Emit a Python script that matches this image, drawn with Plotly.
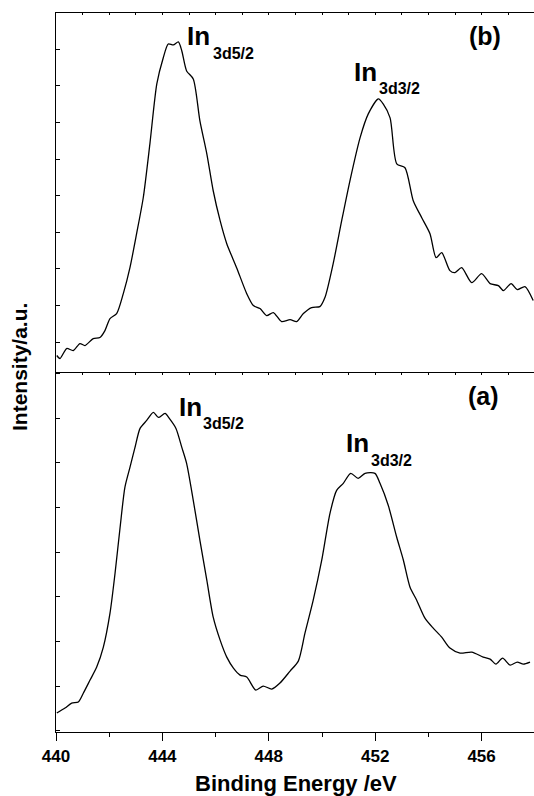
import plotly.graph_objects as go

# ---- data: panel (b) (top) ----
energy_b = [440.03, 440.15, 440.40, 440.65, 440.90, 441.09, 441.40, 441.65, 441.84, 442.03,
            442.28, 442.53, 442.78, 443.03, 443.28, 443.53, 443.79, 444.03, 444.22, 444.41,
            444.60, 444.73, 444.91, 445.16, 445.41, 445.67, 445.91, 446.17, 446.42, 446.79,
            447.17, 447.42, 447.67, 447.92, 448.17, 448.48, 448.80, 449.05, 449.30, 449.61,
            449.92, 450.11, 450.42, 450.74, 451.05, 451.43, 451.74, 452.12, 452.30, 452.56,
            452.81, 453.12, 453.43, 453.75, 454.06, 454.29, 454.50, 454.81, 455.00, 455.25,
            455.63, 456.00, 456.32, 456.63, 456.82, 457.11, 457.34, 457.63, 457.94]
intensity_b = [17, 14, 24, 22, 29, 27, 34, 35, 42, 54,
               59, 79, 105, 139, 175, 229, 289, 315, 329, 328,
               331, 322, 302, 294, 252, 219, 182, 152, 129, 105,
               79, 67, 64, 57, 60, 51, 53, 51, 59, 65,
               66, 75, 109, 152, 192, 235, 259, 274, 269, 255,
               209, 205, 172, 155, 139, 115, 120, 102, 100, 105,
               90, 99, 89, 87, 82, 89, 83, 86, 72]

# ---- data: panel (a) (bottom) ----
energy_a = [440.03, 440.34, 440.59, 440.84, 441.03, 441.28, 441.53, 441.78, 442.03, 442.22,
            442.41, 442.59, 442.78, 442.97, 443.16, 443.41, 443.66, 443.85, 444.10, 444.26,
            444.51, 444.73, 444.91, 445.16, 445.41, 445.67, 445.91, 446.17, 446.42, 446.67,
            446.92, 447.17, 447.51, 447.79, 448.11, 448.42, 448.80, 449.11, 449.36, 449.67,
            449.99, 450.30, 450.55, 450.80, 451.08, 451.36, 451.62, 451.99, 452.18, 452.49,
            452.81, 453.06, 453.31, 453.56, 453.87, 454.18, 454.50, 454.81, 455.19, 455.63,
            456.06, 456.32, 456.54, 456.79, 457.07, 457.34, 457.57, 457.82]
intensity_a = [19, 24, 29, 30, 39, 52, 65, 85, 119, 159,
               205, 245, 265, 285, 304, 312, 320, 315, 319, 314,
               304, 285, 269, 232, 192, 152, 115, 92, 75, 64,
               57, 55, 42, 46, 43, 49, 61, 71, 99, 132,
               172, 219, 242, 249, 259, 254, 259, 259, 249, 227,
               195, 172, 145, 132, 114, 104, 95, 84, 79, 80,
               75, 73, 68, 74, 67, 70, 68, 70]

x_ticks = [440, 444, 448, 452, 456]
x_range = [440, 457.97]

W, H = 534, 796
ML, MR, MT, MB = 56, 0, 13, 64
FONT = "Liberation Sans, Arial, sans-serif"
LW = 1.3

fig = go.Figure()
curve_line = dict(color="black", width=LW, shape="spline", smoothing=0.7)
fig.add_trace(go.Scatter(x=energy_a, y=intensity_a, mode="lines", line=curve_line,
                         xaxis="x", yaxis="y", showlegend=False, hoverinfo="skip"))
fig.add_trace(go.Scatter(x=energy_b, y=intensity_b, mode="lines", line=curve_line,
                         xaxis="x2", yaxis="y2", showlegend=False, hoverinfo="skip"))
# empty traces to make the top-side tick axes render
fig.add_trace(go.Scatter(x=[], y=[], xaxis="x3", yaxis="y", showlegend=False))
fig.add_trace(go.Scatter(x=[], y=[], xaxis="x4", yaxis="y2", showlegend=False))

common_y = dict(range=[0, 360], showticklabels=False, ticks="inside", ticklen=4,
                tickwidth=1, tickcolor="black", showline=True, linecolor="black",
                linewidth=LW, showgrid=False, zeroline=False, fixedrange=True)
top_axis = dict(range=x_range, side="top", ticks="inside", ticklen=2, tickwidth=1,
                tickcolor="black", dtick=1, tick0=440, showticklabels=False,
                showline=True, linecolor="black", linewidth=LW, showgrid=False,
                zeroline=False)

fig.update_layout(
    width=W, height=H,
    margin=dict(l=ML, r=MR, t=MT, b=MB),
    paper_bgcolor="white", plot_bgcolor="white",
    font=dict(family=FONT, color="black"),
    xaxis=dict(range=x_range, anchor="y", tickmode="array", tickvals=x_ticks,
               ticktext=[str(v) for v in x_ticks], ticks="outside", ticklen=8,
               tickwidth=1.3, tickcolor="black",
               minor=dict(dtick=2, tick0=440, ticks="outside", ticklen=4,
                          tickwidth=1.3, tickcolor="black"),
               tickfont=dict(family=FONT, size=17, weight="bold", color="black"),
               showline=True, linecolor="black", linewidth=LW, showgrid=False,
               zeroline=False),
    xaxis2=dict(range=x_range, anchor="y2", matches="x", showticklabels=False,
                ticks="", showline=False, showgrid=False, zeroline=False),
    xaxis3=dict(top_axis, overlaying="x", anchor="y"),
    xaxis4=dict(top_axis, overlaying="x2", anchor="y2"),
    yaxis=dict(common_y, domain=[0, 0.5], anchor="x", tick0=46, dtick=44.7),
    yaxis2=dict(common_y, domain=[0.5, 1], anchor="x2", tick0=30.3, dtick=36.7),
)

PW = W - ML - MR
PH = H - MT - MB


def px(xp):
    return (xp - ML) / PW


def py(yp):
    return (H - MB - yp) / PH


def label(text, xp, yp, size, xanchor="left", angle=0):
    fig.add_annotation(text=text, x=px(xp), y=py(yp), xref="paper", yref="paper",
                       xanchor=xanchor, yanchor="middle", showarrow=False,
                       textangle=angle,
                       font=dict(family=FONT, size=size, weight="bold", color="black"))


# peak labels, top panel (b)
label("In", 185, 36, 26)
label("3d5/2", 211, 54, 16)
label("In", 352, 72, 26)
label("3d3/2", 377, 88, 16)
label("(b)", 485, 36, 25, xanchor="center")
# peak labels, bottom panel (a)
label("In", 177, 407, 26)
label("3d5/2", 201, 423, 16)
label("In", 344, 443, 26)
label("3d3/2", 369, 460, 16)
label("(a)", 483, 396, 25, xanchor="center")

# axis titles
label("Binding Energy /eV", 296, 783, 22, xanchor="center")
label("Intensity/a.u.", 19, 367, 21, xanchor="center", angle=-90)

fig.write_html("out.html",
               config={"displayModeBar": False},
               post_script="document.body.style.margin='0';"
                           "document.body.style.overflow='hidden';")
